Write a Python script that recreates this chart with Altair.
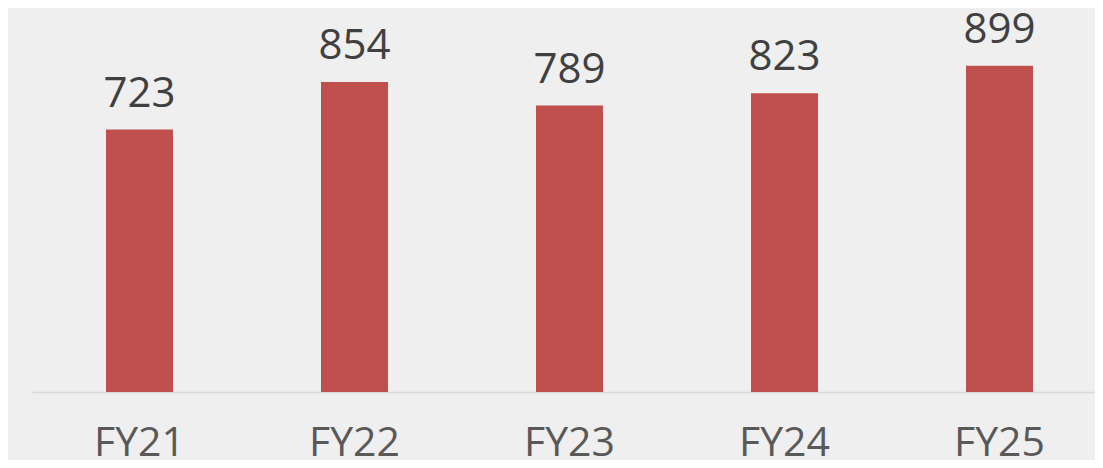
import altair as alt
import pandas as pd

years = ["FY21", "FY22", "FY23", "FY24", "FY25"]
values = [723, 854, 789, 823, 899]

df = pd.DataFrame({"year": years, "value": values})

x = alt.X("year:N", sort=years, title=None,
          scale=alt.Scale(range=[0, 1075], paddingInner=0, paddingOuter=0),
          axis=alt.Axis(labelAngle=0, ticks=False, grid=False,
                        domainColor="#d9d9d9", domainWidth=1.5,
                        labelFont="Open Sans", labelFontSize=41,
                        labelColor="#595959", labelBaseline="alphabetic",
                        labelPadding=63))
y = alt.Y("value:Q", axis=None, scale=alt.Scale(domain=[0, 1000], nice=False))

bars = alt.Chart(df).mark_bar(color="#c0504d", size=67).encode(x=x, y=y)
labels = alt.Chart(df).mark_text(
    font="Open Sans", fontSize=42, color="#404040",
    baseline="alphabetic", dy=-23
).encode(x=x, y=y, text="value:Q")

chart = (bars + labels).properties(
    width=1063, height=363,
    autosize=alt.AutoSizeParams(type="none"),
    padding={"left": 24, "right": 0, "top": 21, "bottom": 68},
    background="#efefef",
).configure_view(stroke=None)

chart.save("out.html", embed_options={"renderer": "svg", "actions": False})
